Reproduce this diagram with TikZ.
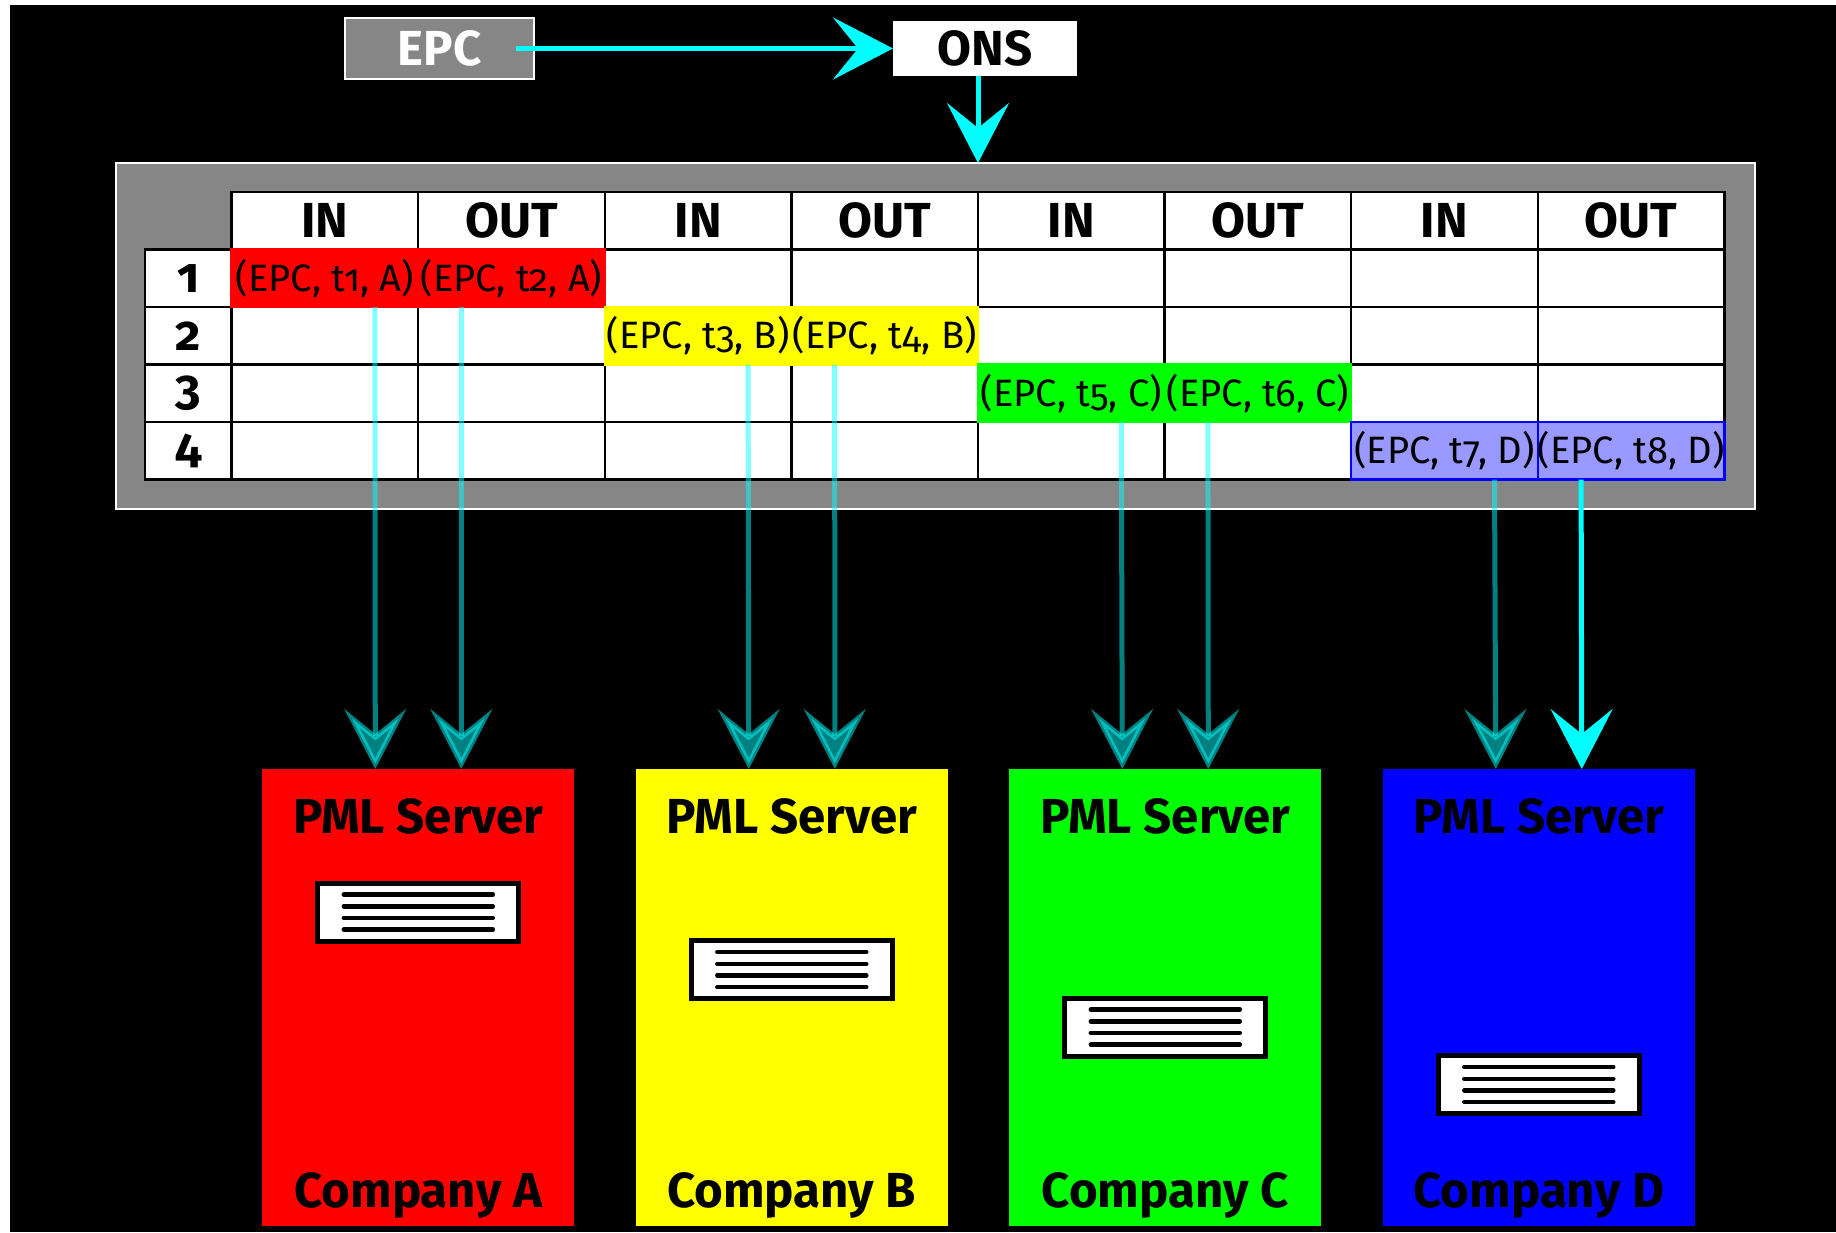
\documentclass[tikz,border=0pt]{standalone}
\usepackage{fontspec}
\setmainfont{Fira Sans}[Numbers=OldStyle]
\usepackage{tikz}
\usetikzlibrary{arrows.meta}
\usetikzlibrary{positioning}
\definecolor{framegray}{RGB}{134,134,134}
\definecolor{softblue}{RGB}{153,153,255}
\definecolor{purered}{RGB}{255,0,0}
\definecolor{pureyellow}{RGB}{255,255,0}
\definecolor{puregreen}{RGB}{0,255,0}
\definecolor{pureblue}{RGB}{0,0,255}
\definecolor{purecyan}{RGB}{0,255,255}
\tikzset{
    bigbold/.style={
           font=\fontsize{28}{32}\selectfont\bfseries,
           },
    head/.style={
           rectangle,
           draw=black, line width=.05cm,
           fill=white,
           bigbold,
           inner sep=0pt, outer sep=0pt,
           minimum width=3.732cm,
           minimum height=1.15cm,
           },
    rowlabel/.style={
           head,
           minimum width=1.732cm,
           },
    entry/.style={
           rectangle,
           draw=#1, line width=.05cm,
           fill=#1,
           font=\fontsize{21.7}{22}\selectfont,
           inner sep=0pt, outer sep=0pt,
           minimum width=3.732cm,
           minimum height=1.15cm,
           },
    gridline/.style={
           draw=black, line width=.05cm,
           },
}
\tikzset{
    server/.style={
           rectangle,
           fill=#1,
           outer sep=0pt,
           minimum width=6.24cm,
           minimum height=9.14cm,
           },
    servertext/.style={
           bigbold,
           anchor=base,
           inner sep=0pt,
           },
    rack/.style={
           rectangle,
           draw=black, line width=.1cm,
           fill=white,
           outer sep=0pt,
           minimum width=4.02cm,
           minimum height=1.16cm,
           path picture={
             \draw[line width=.09cm,line cap=round,shift={(path picture bounding box.center)}]
               (-1.49,.35) -- (1.49,.35)
               (-1.49,.115) -- (1.49,.115)
               (-1.49,-.115) -- (1.49,-.115)
               (-1.49,-.35) -- (1.49,-.35);
           },
           },
    feed/.style={
           ->,
           draw=purecyan,
           line width=.1cm,
           },
    faded/.style={
           feed,
           opacity=.5,
           },
}
\begin{document}
\begin{tikzpicture}[>={Stealth[length=1.2cm,width=1.24cm,inset=.5cm]}]

 \useasboundingbox (0,0) rectangle (36.72,-24.64);
 \fill[white] (0,0) rectangle (36.72,-24.64);
 \fill[black] (.2,-.1) rectangle (36.72,-24.64);

 % top row
 \node[rectangle,
  draw=white, line width=.05cm,
  fill=framegray,
  text=white,
  bigbold,
  outer sep=0pt,
  minimum width=3.78cm,
  minimum height=1.22cm] (EPC) at (8.79,-.97)
 {EPC};

 \node[rectangle,
  fill=white,
  bigbold,
  outer sep=0pt,
  minimum width=3.68cm,
  minimum height=1.1cm,
  right=7.18cm of EPC] (ONS)
 {ONS};

 % table
 \node[rectangle,
  draw=white, line width=.05cm,
  fill=framegray,
  outer sep=0pt,
  minimum width=32.78cm,
  minimum height=6.92cm] (frame) at (18.71,-6.72)
 {};

 \node[head,anchor=north west] (h1) at ([xshift=2.312cm,yshift=-.58cm]frame.north west) {IN};
 \node[head,right=0pt of h1] (h2) {OUT};
 \node[head,right=0pt of h2] (h3) {IN};
 \node[head,right=0pt of h3] (h4) {OUT};
 \node[head,right=0pt of h4] (h5) {IN};
 \node[head,right=0pt of h5] (h6) {OUT};
 \node[head,right=0pt of h6] (h7) {IN};
 \node[head,right=0pt of h7] (h8) {OUT};

 \node[rowlabel,below left=0pt of h1.south west] (r1) {1};
 \node[rowlabel,below=0pt of r1] (r2) {2};
 \node[rowlabel,below=0pt of r2] (r3) {3};
 \node[rowlabel,below=0pt of r3] (r4) {4};

 \node[rectangle,
  draw=black, line width=.05cm,
  fill=white,
  outer sep=0pt,
  anchor=north west,
  minimum width=29.856cm,
  minimum height=4.6cm] (body) at (h1.south west)
 {};

 \draw[gridline] (h1.south east) -- (h1.south east |- body.south)
  (h2.south east) -- (h2.south east |- body.south)
  (h3.south east) -- (h3.south east |- body.south)
  (h4.south east) -- (h4.south east |- body.south)
  (h5.south east) -- (h5.south east |- body.south)
  (h6.south east) -- (h6.south east |- body.south)
  (h7.south east) -- (h7.south east |- body.south);
 \draw[gridline] (r1.south east) -- (r1.south east -| body.east)
  (r2.south east) -- (r2.south east -| body.east)
  (r3.south east) -- (r3.south east -| body.east);

 \node[entry=purered,below=0pt of h1] (t1) {(EPC, t1, A)};
 \node[entry=purered,below=0pt of h2] (t2) {(EPC, t2, A)};
 \node[entry=pureyellow,below=1.15cm of h3] (t3) {(EPC, t3, B)};
 \node[entry=pureyellow,below=1.15cm of h4] (t4) {(EPC, t4, B)};
 \node[entry=puregreen,below=2.3cm of h5] (t5) {(EPC, t5, C)};
 \node[entry=puregreen,below=2.3cm of h6] (t6) {(EPC, t6, C)};
 \node[entry=softblue,draw=pureblue,below=3.45cm of h7] (t7) {(EPC, t7, D)};
 \node[entry=softblue,draw=pureblue,below=3.45cm of h8] (t8) {(EPC, t8, D)};

 % servers
 \node[server=purered,anchor=north] (srvA) at (8.366,-15.38) {};
 \node[server=pureyellow,right=1.23cm of srvA] (srvB) {};
 \node[server=puregreen,right=1.23cm of srvB] (srvC) {};
 \node[server=pureblue,right=1.23cm of srvC] (srvD) {};

 \node[servertext] (pmlA) at ([yshift=-1.28cm]srvA.north) {PML Server};
 \node[servertext] (pmlB) at ([yshift=-1.28cm]srvB.north) {PML Server};
 \node[servertext] (pmlC) at ([yshift=-1.28cm]srvC.north) {PML Server};
 \node[servertext] (pmlD) at ([yshift=-1.28cm]srvD.north) {PML Server};

 \node[servertext] (compA) at ([yshift=.38cm]srvA.south) {Company A};
 \node[servertext] (compB) at ([yshift=.38cm]srvB.south) {Company B};
 \node[servertext] (compC) at ([yshift=.38cm]srvC.south) {Company C};
 \node[servertext] (compD) at ([yshift=.38cm]srvD.south) {Company D};

 \node[rack] (rackA) at ([yshift=-2.86cm]srvA.north) {};
 \node[rack] (rackB) at ([yshift=-4.01cm]srvB.north) {};
 \node[rack] (rackC) at ([yshift=-5.16cm]srvC.north) {};
 \node[rack] (rackD) at ([yshift=-6.31cm]srvD.north) {};

 % arrows
 \path ([xshift=-.36cm]EPC.east) edge[feed] (ONS.west)
  (h4.north east |- ONS.south) edge[feed] (h4.north east |- frame.north)
  ([xshift=1cm]t1.south) edge[faded] ([xshift=-.86cm]srvA.north)
  ([xshift=-1cm]t2.south) edge[faded] ([xshift=.86cm]srvA.north)
  ([xshift=1cm]t3.south) edge[faded] ([xshift=-.86cm]srvB.north)
  ([xshift=-1cm]t4.south) edge[faded] ([xshift=.86cm]srvB.north)
  ([xshift=1cm]t5.south) edge[faded] ([xshift=-.86cm]srvC.north)
  ([xshift=-1cm]t6.south) edge[faded] ([xshift=.86cm]srvC.north)
  ([xshift=1cm]t7.south) edge[faded] ([xshift=-.86cm]srvD.north)
  ([xshift=-1cm]t8.south) edge[feed] ([xshift=.86cm]srvD.north)
;

\end{tikzpicture}
\end{document}
